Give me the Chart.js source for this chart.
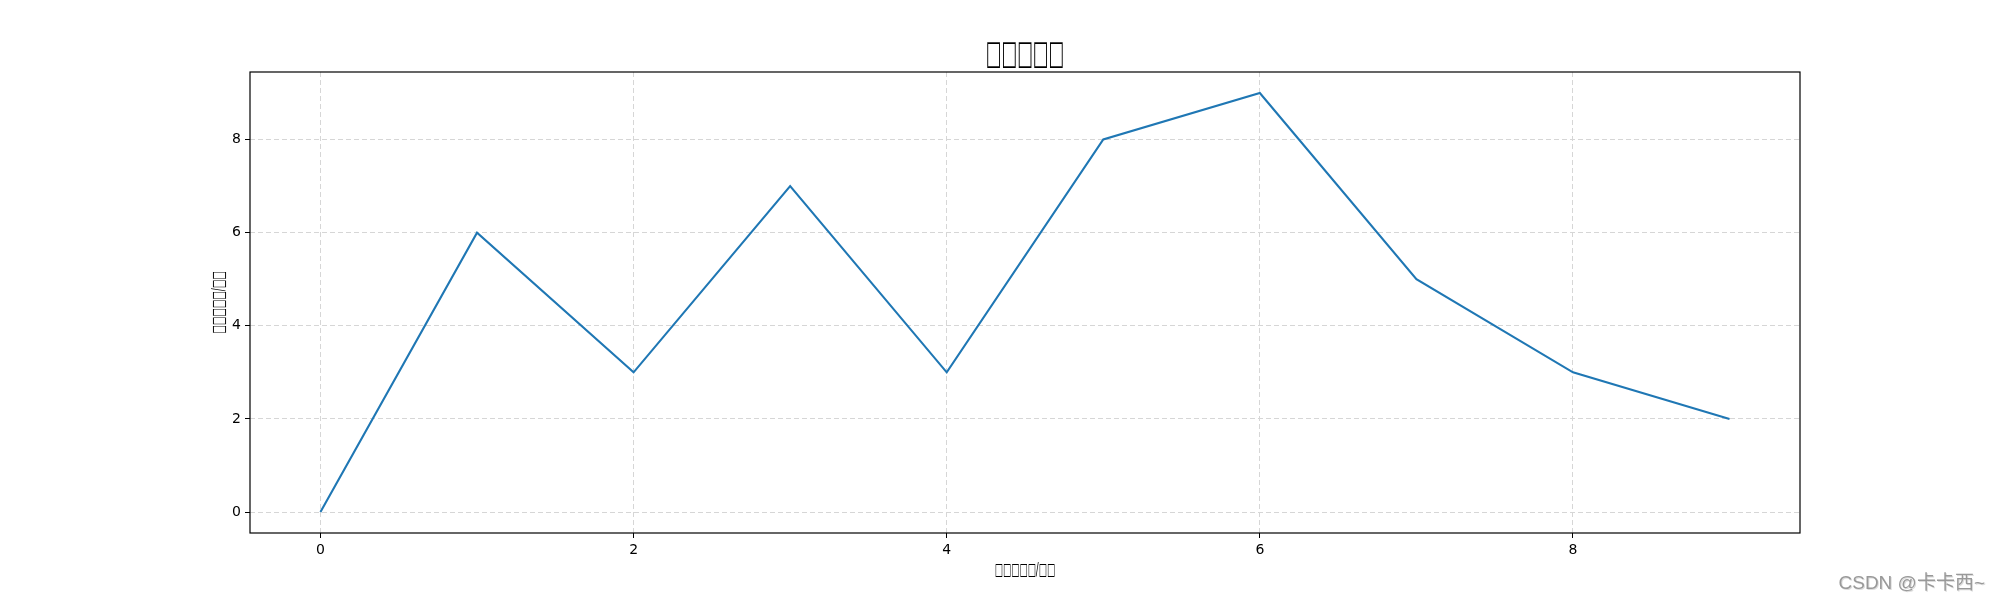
<!DOCTYPE html>
<html>
<head>
    <meta charset="UTF-8">
    <title>Line</title>
    <script src="https://cdn.jsdelivr.net/npm/chart.js@4.4.1/dist/chart.umd.min.js"></script>
    <style>
        html, body { margin: 0; padding: 0; background: #fff; }
        #wrap { width: 2000px; height: 600px; position: relative; }
    </style>
</head>
<body>
    <div id="wrap"><canvas id="myChart" width="2000" height="600"></canvas></div>

    <script>
        // data
        const xValues = [0, 1, 2, 3, 4, 5, 6, 7, 8, 9];
        const yValues = [0, 6, 3, 7, 3, 8, 9, 5, 3, 2];
        const xTicks = [0, 2, 4, 6, 8];
        const yTicks = [0, 2, 4, 6, 8];

        const titleText = '□□□□□';
        const xLabelText = '□□□□□/□□';
        const yLabelText = '□□□□□/□□';
        const watermark = 'CSDN @卡卡西~';

        const tickFont = { family: 'DejaVu Sans', size: 14 };

        // draw text squeezed (the missing-glyph boxes are narrow and tall)
        function squeezed(ctx, text, x, y, sx, sy) {
            ctx.save();
            ctx.translate(x, y);
            ctx.scale(sx, sy);
            ctx.fillText(text, 0, 0);
            ctx.restore();
        }

        // frame + titles + watermark
        const decor = {
            id: 'decor',
            afterDraw(chart) {
                const ctx = chart.ctx;
                const a = chart.chartArea;
                ctx.save();
                ctx.strokeStyle = '#000';
                ctx.lineWidth = 1.2;
                ctx.strokeRect(a.left, a.top, a.right - a.left, a.bottom - a.top);

                ctx.fillStyle = '#000';
                ctx.textAlign = 'center';
                ctx.textBaseline = 'middle';
                ctx.font = 'bold 26px "DejaVu Sans"';
                squeezed(ctx, titleText, (a.left + a.right) / 2, 55, 0.64, 1.3);

                ctx.font = '14px "DejaVu Sans"';
                squeezed(ctx, xLabelText, (a.left + a.right) / 2, 570, 0.62, 1.25);

                ctx.translate(219, (a.top + a.bottom) / 2);
                ctx.rotate(-Math.PI / 2);
                squeezed(ctx, yLabelText, 0, 0, 0.64, 1.25);
                ctx.restore();

                ctx.save();
                ctx.font = '19px "Liberation Sans", "Noto Sans CJK SC"';
                ctx.textAlign = 'right';
                ctx.textBaseline = 'alphabetic';
                ctx.fillStyle = '#dddddd';
                ctx.fillText(watermark, 1986, 590);
                ctx.fillStyle = '#999999';
                ctx.fillText(watermark, 1985, 589);
                ctx.restore();
            }
        };

        const ctx = document.getElementById('myChart').getContext('2d');
        new Chart(ctx, {
            type: 'line',
            data: {
                datasets: [{
                    data: xValues.map((x, i) => ({ x: x, y: yValues[i] })),
                    borderColor: '#1f77b4',
                    borderWidth: 2.1,
                    pointRadius: 0,
                    tension: 0,
                    fill: false
                }]
            },
            options: {
                responsive: false,
                animation: false,
                layout: { padding: { top: 72, right: 200, left: 0, bottom: 0 } },
                plugins: { legend: { display: false }, tooltip: { enabled: false } },
                scales: {
                    x: {
                        type: 'linear',
                        min: -0.45,
                        max: 9.45,
                        afterBuildTicks: (s) => { s.ticks = xTicks.map(v => ({ value: v })); },
                        afterFit: (s) => { s.height = 67; },
                        border: { display: false, dash: [5, 3] },
                        grid: {
                            color: '#d6d6d6',
                            tickColor: '#000',
                            tickBorderDash: [],
                            tickLength: 5,
                            lineWidth: 1
                        },
                        ticks: { color: '#000', font: tickFont, padding: 4, maxRotation: 0 }
                    },
                    y: {
                        min: -0.45,
                        max: 9.45,
                        afterBuildTicks: (s) => { s.ticks = yTicks.map(v => ({ value: v })); },
                        afterFit: (s) => { s.width = 250; },
                        border: { display: false, dash: [5, 3] },
                        grid: {
                            color: '#d6d6d6',
                            tickColor: '#000',
                            tickBorderDash: [],
                            tickLength: 5,
                            lineWidth: 1
                        },
                        ticks: { color: '#000', font: tickFont, padding: 4 }
                    }
                }
            },
            plugins: [decor]
        });
    </script>
</body>
</html>
